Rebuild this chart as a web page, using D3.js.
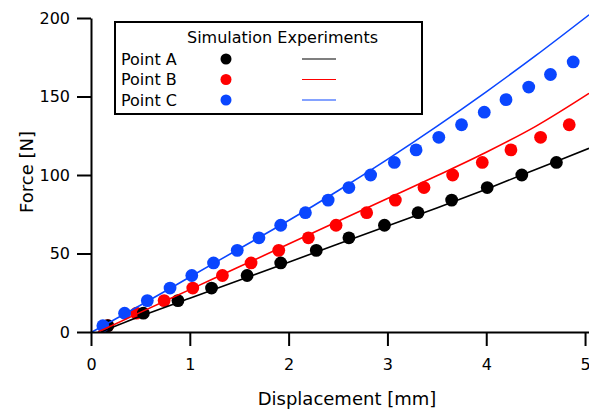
<!DOCTYPE html>
<html>
<head>
<meta charset="utf-8">
<script src="https://cdn.jsdelivr.net/npm/d3@7"></script>
<style>
  html, body { margin: 0; padding: 0; background: #fff; }
  svg { display: block; font-family: "DejaVu Sans", Verdana, sans-serif; }
</style>
</head>
<body>
<svg id="chart" width="589" height="413"></svg>
<script>
// Axis ticks
const xTicks = [0, 1, 2, 3, 4, 5];
const yTicks = [0, 50, 100, 150, 200];

// Series names and colours
const seriesNames = ["Point A", "Point B", "Point C"];
const seriesColors = ["#000000", "#ff0000", "#0a46ff"];

// Simulation results (markers): displacement [mm] and force [N]
const simDispA = [0.17, 0.53, 0.88, 1.22, 1.58, 1.92, 2.28, 2.61, 2.97, 3.31, 3.65, 4.01, 4.36, 4.71];
const simForceA = [4, 12, 20, 28, 36, 44, 52, 60, 68, 76, 84, 92, 100, 108];
const simDispB = [0.17, 0.46, 0.74, 1.03, 1.33, 1.62, 1.90, 2.20, 2.48, 2.79, 3.08, 3.37, 3.66, 3.96, 4.25, 4.55, 4.84];
const simForceB = [4, 12, 20, 28, 36, 44, 52, 60, 68, 76, 84, 92, 100, 108, 116, 124, 132];
const simDispC = [0.12, 0.34, 0.57, 0.80, 1.02, 1.24, 1.48, 1.70, 1.92, 2.17, 2.40, 2.61, 2.83, 3.07, 3.29, 3.52, 3.75, 3.98, 4.20, 4.43, 4.65, 4.88];
const simForceC = [4, 12, 20, 28, 36, 44, 52, 60, 68, 76, 84, 92, 100, 108, 116, 124, 132, 140, 148, 156, 164, 172];

// Experimental curves (lines): displacement [mm] and force [N]
const expDispA = [0.10, 0.5, 1, 1.5, 2, 2.5, 3, 3.5, 4, 4.5, 5.04];
const expForceA = [0, 10, 21.5, 33, 44.5, 56, 67.5, 79, 91, 103.5, 117];
const expDispB = [0.07, 0.5, 1, 1.5, 2, 2.5, 3, 3.5, 4, 4.5, 5.04];
const expForceB = [0, 12.5, 27, 41.5, 56, 70.5, 85, 99.5, 114.5, 131, 152];
const expDispC = [0.01, 0.5, 1, 1.5, 2, 2.5, 3, 3.5, 4, 4.5, 5.04];
const expForceC = [0, 17, 35, 53, 71, 90, 110, 131, 153, 176, 202];

const zip = (xs, ys) => xs.map((x, i) => ({ x: x, y: ys[i] }));
const simSeries = [zip(simDispA, simForceA), zip(simDispB, simForceB), zip(simDispC, simForceC)];
const expSeries = [zip(expDispA, expForceA), zip(expDispB, expForceB), zip(expDispC, expForceC)];

const svg = d3.select("#chart");

const x = d3.scaleLinear().domain([0, 5.04]).range([91, 589]);
const y = d3.scaleLinear().domain([0, 200]).range([332, 18]);

// Plot content is clipped to the plotting area
svg.append("defs").append("clipPath").attr("id", "plotClip")
  .append("rect").attr("x", 91).attr("y", 0).attr("width", 498).attr("height", 332);

const plot = svg.append("g").attr("clip-path", "url(#plotClip)");

// Markers: red first, then black, then blue on top
const markerOrder = [1, 0, 2];
markerOrder.forEach(i => {
  plot.append("g")
    .selectAll("circle")
    .data(simSeries[i])
    .join("circle")
    .attr("cx", d => x(d.x))
    .attr("cy", d => y(d.y))
    .attr("r", 6.4)
    .attr("fill", seriesColors[i]);
});

// Experimental lines
const line = d3.line().x(d => x(d.x)).y(d => y(d.y)).curve(d3.curveMonotoneX);
expSeries.forEach((s, i) => {
  plot.append("path")
    .datum(s)
    .attr("d", line)
    .attr("fill", "none")
    .attr("stroke", seriesColors[i])
    .attr("stroke-width", 1.6);
});

// Axes
const xAxis = d3.axisBottom(x).tickValues(xTicks).tickFormat(d3.format("d"))
  .tickSizeInner(14).tickSizeOuter(0).tickPadding(13);
const yAxis = d3.axisLeft(y).tickValues(yTicks).tickFormat(d3.format("d"))
  .tickSizeInner(14).tickSizeOuter(0).tickPadding(7);

const gx = svg.append("g").attr("transform", "translate(0,332)").call(xAxis);
const gy = svg.append("g").attr("transform", "translate(91,0)").call(yAxis);

[gx, gy].forEach(g => {
  g.select(".domain").attr("stroke", "#000").attr("stroke-width", 2);
  g.selectAll(".tick line").attr("stroke", "#000").attr("stroke-width", 2);
  g.selectAll(".tick text").attr("fill", "#000")
    .style("font-family", "'DejaVu Sans', Verdana, sans-serif").style("font-size", "16px");
});

// Axis titles
svg.append("text")
  .attr("x", 347).attr("y", 405)
  .attr("text-anchor", "middle")
  .style("font-size", "18px")
  .text("Displacement [mm]");

svg.append("text")
  .attr("transform", "translate(33,172) rotate(-90)")
  .attr("text-anchor", "middle")
  .style("font-size", "18px")
  .text("Force [N]");

// Legend
const legend = svg.append("g");
legend.append("rect")
  .attr("x", 115).attr("y", 22).attr("width", 307).attr("height", 92)
  .attr("fill", "#fff").attr("stroke", "#000").attr("stroke-width", 2);

legend.append("text")
  .attr("x", 187).attr("y", 43)
  .style("font-size", "16px")
  .text("Simulation Experiments");

const rowY = [59, 79.5, 100];
seriesNames.forEach((name, i) => {
  legend.append("text")
    .attr("x", 121).attr("y", rowY[i] + 5.8)
    .style("font-size", "16px")
    .text(name);
  legend.append("circle")
    .attr("cx", 226).attr("cy", rowY[i]).attr("r", 5.5)
    .attr("fill", seriesColors[i]);
  legend.append("line")
    .attr("x1", 302).attr("x2", 336)
    .attr("y1", rowY[i]).attr("y2", rowY[i])
    .attr("stroke", seriesColors[i]).attr("stroke-width", 1.2);
});
</script>
</body>
</html>
